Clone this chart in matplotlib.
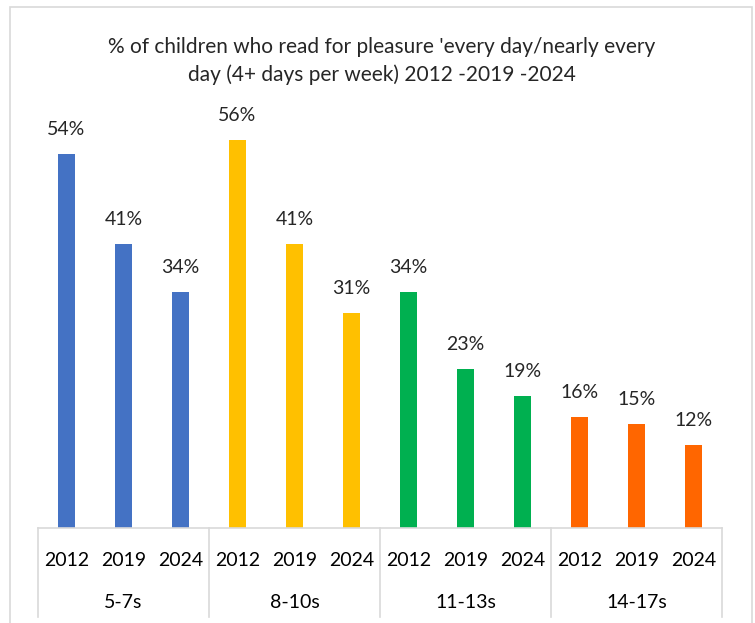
import matplotlib.pyplot as plt
from matplotlib.patches import Rectangle
from matplotlib.transforms import blended_transform_factory

# Reading for pleasure daily, by age group and survey year.
groups = ["5-7s", "8-10s", "11-13s", "14-17s"]
years = ["2012", "2019", "2024"]
values = [
    [54, 41, 34],
    [56, 41, 31],
    [34, 23, 19],
    [16, 15, 12],
]
colors = ["#4472C4", "#FFC000", "#00B050", "#FF6600"]

plt.rcParams['font.family'] = ['Lato', 'DejaVu Sans']

fig = plt.figure(figsize=(7.55, 6.23), dpi=100)
ax = fig.add_axes([38 / 755, 95 / 623, 684 / 755, 416 / 623])

# Outer chart frame.
fig.patches.append(Rectangle((10 / 755, -0.05), 742 / 755, (616 / 623) + 0.05,
                             transform=fig.transFigure, fill=False,
                             edgecolor="#D9D9D9", linewidth=1.2))

pos = 0
for g, vals in enumerate(values):
    for v in vals:
        ax.bar(pos, v, width=0.3, color=colors[g])
        ax.text(pos, v + 2.3, f"{v}%", ha="center", va="bottom",
                fontsize=14, color="#262626")
        pos += 1

ax.set_xlim(-0.5, 11.5)
ax.set_ylim(0, 60)
for s in ax.spines.values():
    s.set_visible(False)
ax.set_xticks([])
ax.set_yticks([])

# Two-level category axis.
tr = blended_transform_factory(ax.transData, ax.transAxes)
ax.plot([-0.5, 11.5], [0, 0], transform=tr, color="#D9D9D9", lw=1.2,
        clip_on=False)
for b in [-0.5, 2.5, 5.5, 8.5, 11.5]:
    ax.plot([b, b], [0, -0.214], transform=tr, color="#D9D9D9", lw=1.2,
            clip_on=False)
pos = 0
for g, name in enumerate(groups):
    for y in years:
        ax.text(pos, -0.077, y, transform=tr, ha="center", va="center",
                fontsize=14, color="#000000")
        pos += 1
    ax.text(g * 3 + 1, -0.178, name, transform=tr, ha="center",
            va="center", fontsize=14, color="#000000")

fig.text(382 / 755, 1 - 61 / 623,
         "% of children who read for pleasure 'every day/nearly every\n"
         "day (4+ days per week) 2012 -2019 -2024",
         ha="center", va="center", fontsize=15, color="#262626",
         linespacing=1.4)

fig.savefig("out.png", dpi=100)
